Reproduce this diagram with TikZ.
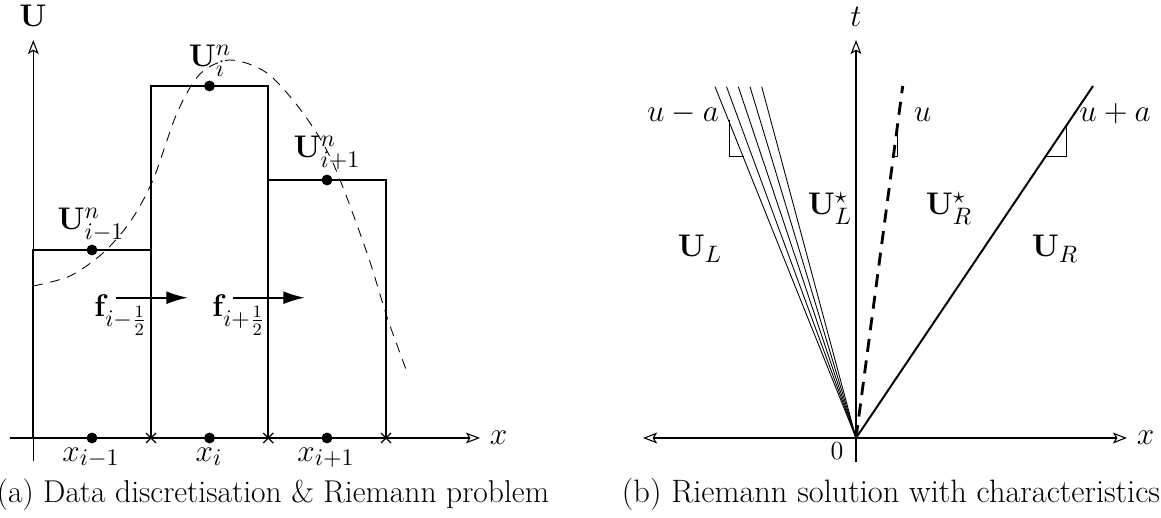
\documentclass[tikz,border=0pt]{standalone}
\usepackage{amsmath}
\usepackage{graphicx}
\usetikzlibrary{arrows.meta,positioning,shapes.misc}

\begin{document}
\begin{tikzpicture}[x=0.46pt, y=-0.46pt, font=\fontsize{15.6}{19}\selectfont,
  >={Stealth[open, length=6.5pt, width=5pt, inset=1.5pt]},
  axis/.style={line width=0.5pt},
  cell/.style={line width=1pt},
  fan/.style={line width=0.4pt},
  contact/.style={line width=1.3pt, dash pattern=on 6pt off 4pt},
  shock/.style={line width=0.9pt},
  flux/.style={line width=1pt, -{Latex[length=10pt, width=6pt]}},
  dot/.style={circle, fill, inner sep=0pt, minimum size=5pt},
  xmark/.style={cross out, draw, line width=0.6pt, inner sep=0pt, minimum size=4pt},
  lbl/.style={anchor=base, inner sep=0pt}
]
  \useasboundingbox (0,0) rectangle (1161,518);

  % (a) cells and data
  \coordinate (ubot) at (33.3,461);
  \coordinate (utop) at (33.3,40);
  \coordinate (xl) at (10,438);
  \coordinate (xr) at (480,438);
  \draw[axis, ->] (ubot) -- (utop);
  \draw[axis, ->] (xl) -- (xr);
  \node[lbl] (ulab) at (33,27) {$\mathbf{U}$};
  \node[right=1pt of xr] (xlab) {$x$};

  \coordinate (b0) at (33.3,438);
  \coordinate (b1) at (151,438);
  \coordinate (b2) at (268.3,438);
  \coordinate (b3) at (386,438);
  \draw[cell] (b0) -- ++(0,-188) -| (b1);
  \draw[cell] (b1) -- ++(0,-352) -| (b2);
  \draw[cell] (b2) -- ++(0,-258) -| (b3);
  \node[xmark] (k1) at (b1) {};
  \node[xmark] (k2) at (b2) {};
  \node[xmark] (k3) at (b3) {};

  \draw[fan, dash pattern=on 4.5pt off 3.5pt] plot[smooth] coordinates {(33.3,286) (70,276) (103,253) (130,222) (153,180) (177,113) (200,74) (230,60) (267,73) (303,113) (333,163) (367,253) (387,317) (407,372)};

  \node[dot] (c1) at (92,250) {};
  \node[dot] (c2) at (209.5,86) {};
  \node[dot] (c3) at (327,180) {};
  \node[dot] (a1) at (92,438) {};
  \node[dot] (a2) at (209.5,438) {};
  \node[dot] (a3) at (327,438) {};
  \node[lbl] (uim) at (91,230) {$\mathbf{U}^n_{i-1}$};
  \node[lbl] (ui) at (210,67) {$\mathbf{U}^n_i$};
  \node[lbl] (uip) at (327,158) {$\mathbf{U}^n_{i+1}$};
  \node[lbl] (xim) at (91,461) {$x_{i-1}$};
  \node[lbl] (xi) at (209,461) {$x_i$};
  \node[lbl] (xip) at (326,461) {$x_{i+1}$};

  \coordinate (fms) at (116,297.7);
  \coordinate (fme) at (188,297.7);
  \coordinate (fps) at (233,297.7);
  \coordinate (fpe) at (305,297.7);
  \draw[flux] (fms) -- (fme);
  \draw[flux] (fps) -- (fpe);
  \node[lbl] (fm) at (121,317) {$\mathbf{f}_{i-\frac{1}{2}}$};
  \node[lbl] (fp) at (239,317) {$\mathbf{f}_{i+\frac{1}{2}}$};

  % (b) wave fan
  \coordinate (O) at (856,438);
  \coordinate (tbot) at (856,462);
  \coordinate (ttop) at (856,40);
  \coordinate (xl2) at (643,438);
  \coordinate (xr2) at (1127,438);
  \draw[axis, ->] (tbot) -- (ttop);
  \draw[axis, <->] (xl2) -- (xr2);
  \node[lbl] (tlab) at (856,27) {$t$};
  \node[right=1pt of xr2] (xlab2) {$x$};
  \node[font=\fontsize{13}{15}\selectfont] (zero) at (837,451.5) {$0$};

  \coordinate (r1) at (715,86.7);
  \coordinate (r2) at (726.5,86.7);
  \coordinate (r3) at (738.3,86.7);
  \coordinate (r4) at (750,86.7);
  \coordinate (r5) at (761.7,86.7);
  \draw[fan] (O) -- (r1);
  \draw[fan] (O) -- (r2);
  \draw[fan] (O) -- (r3);
  \draw[fan] (O) -- (r4);
  \draw[fan] (O) -- (r5);
  \coordinate (ct) at (902.7,86);
  \draw[contact] (O) -- (ct);
  \coordinate (st) at (1093,86);
  \draw[shock] (O) -- (st);

  \coordinate (ra) at (729,120);
  \coordinate (rb) at (743.5,156);
  \draw[fan] (ra) |- (rb);
  \coordinate (ca) at (897.3,127);
  \coordinate (cb) at (893.4,156);
  \draw[fan] (ca) |- (cb);
  \coordinate (sa) at (1066.7,125);
  \coordinate (sb) at (1045.8,156);
  \draw[fan] (sa) |- (sb);

  \node[lbl] (lum) at (683,122) {$u-a$};
  \node[lbl] (lu) at (922.5,122) {$u$};
  \node[lbl] (lup) at (1115,122) {$u+a$};
  \node[lbl] (ul) at (700,257) {$\mathbf{U}_L$};
  \node[lbl] (uls) at (830,215) {$\mathbf{U}^\star_L$};
  \node[lbl] (urs) at (949,215) {$\mathbf{U}^\star_R$};
  \node[lbl] (ur) at (1055,257) {$\mathbf{U}_R$};

  \node[lbl] (capa) at (273,502) {\scalebox{0.93}{(a) Data discretisation \& Riemann problem}};
  \node[lbl] (capb) at (891,502) {\scalebox{0.955}{(b) Riemann solution with characteristics}};
\end{tikzpicture}
\end{document}
